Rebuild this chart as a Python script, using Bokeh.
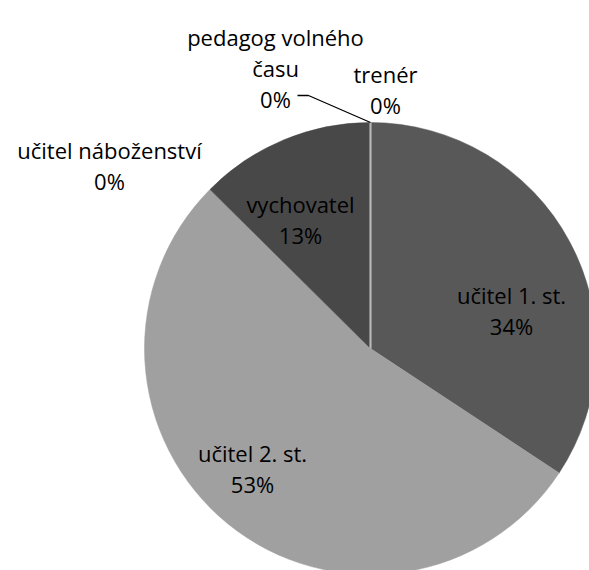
import numpy as np
from bokeh.plotting import figure
from bokeh.models import ColumnDataSource, Range1d
from bokeh.core.properties import value
from bokeh.embed import file_html
from bokeh.resources import INLINE

# ---- data ----
categories = ["učitel 1. st.", "učitel 2. st.", "vychovatel",
              "učitel náboženství", "pedagog volného času", "trenér"]
counts = [60, 93, 22, 0, 0, 0]
colors = ["#585858", "#a0a0a0", "#484848", "#7f7f7f", "#b4b4b4", "#b4b4b4"]

# ---- layout (page pixels) ----
W, H = 589, 570
def px(x):
    return x
def py(y):
    return H - y

cx, cy, R = px(370), py(348), 226
label_lines = {"pedagog volného času": ["pedagog volného", "času"]}
label_pos = [(511, 294), (252, 452), (300, 203), (109, 149), (275, 36), (385, 73)]
LINE = 31
leader_pts = [(297, 95), (308, 95)]  # for "pedagog volného času"

total = float(sum(counts))
frac = np.array(counts, dtype=float) / total
cum = np.concatenate([[0.0], np.cumsum(frac)])
start = np.pi / 2 - 2 * np.pi * cum[:-1]
end = np.pi / 2 - 2 * np.pi * cum[1:]
pct = [f"{int(round(f * 100))}%" for f in frac]

p = figure(width=W, height=H, x_range=Range1d(0, W), y_range=Range1d(0, H),
           output_backend="svg", toolbar_location=None, min_border=0)
p.axis.visible = False
p.grid.visible = False
p.outline_line_color = None
p.background_fill_color = "white"
p.border_fill_color = "white"

nz = [i for i, c in enumerate(counts) if c > 0]
wsrc = ColumnDataSource(dict(start=[start[i] for i in nz], end=[end[i] for i in nz],
                             color=[colors[i] for i in nz]))
p.wedge(x=cx, y=cy, radius=R, start_angle="start", end_angle="end", direction="clock",
        fill_color="color", line_color="color", line_width=0.5, source=wsrc)

# zero-size slices shown as a radial line
z = [i for i, c in enumerate(counts) if c == 0]
p.segment(x0=[cx] * len(z), y0=[cy] * len(z),
          x1=[cx + R * np.cos(start[i]) for i in z], y1=[cy + R * np.sin(start[i]) for i in z],
          line_color="#b8b8b8", line_width=1.5)

# leader line for "pedagog volného času"
k = categories.index("pedagog volného času")
lx = [px(a) for a, b in leader_pts] + [cx + R * np.cos(start[k])]
ly = [py(b) for a, b in leader_pts] + [cy + R * np.sin(start[k])]
p.line(x=lx, y=ly, line_color="black", line_width=1.3)

# labels
tx, ty, tt = [], [], []
for i, cat in enumerate(categories):
    lines = label_lines.get(cat, [cat]) + [pct[i]]
    x0, y0 = label_pos[i]
    for j, t in enumerate(lines):
        tx.append(px(x0))
        ty.append(py(y0 + j * LINE))
        tt.append(t)
p.text(x=tx, y=ty, text=tt, text_align="center", text_baseline="alphabetic",
       text_font=value("Open Sans"), text_font_size="22px", text_color="black")

open("out.html", "w").write(file_html(p, INLINE))
